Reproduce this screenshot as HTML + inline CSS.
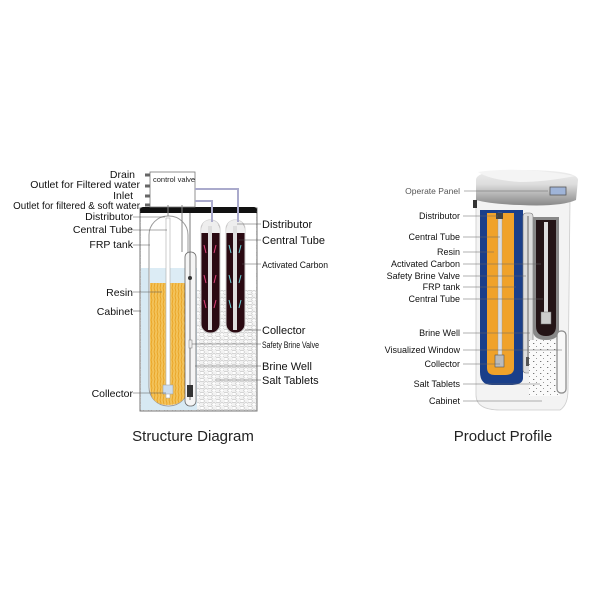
<!DOCTYPE html>
<html><head><meta charset="utf-8"><style>
html,body{margin:0;padding:0;background:#fff;}
svg{display:block;font-family:"Liberation Sans",sans-serif;}
</style></head><body>
<svg width="600" height="600" viewBox="0 0 600 600">
<defs>
<pattern id="peb" width="8" height="7" patternUnits="userSpaceOnUse">
<rect width="8" height="7" fill="#f2f2f2"/>
<ellipse cx="2" cy="2" rx="2.2" ry="1.7" fill="#fff" stroke="#aaa" stroke-width="0.5"/>
<ellipse cx="6" cy="5.5" rx="2.2" ry="1.7" fill="#fff" stroke="#aaa" stroke-width="0.5"/>
</pattern>
<pattern id="resin" width="6" height="8" patternUnits="userSpaceOnUse">
<rect width="6" height="8" fill="#f3c35a"/>
<path d="M1 0 L2 4 L1 8 M4 0 L5 3 L4 8" stroke="#e8a020" stroke-width="0.8" fill="none"/>
</pattern>
<pattern id="speck" width="7" height="6" patternUnits="userSpaceOnUse">
<rect width="7" height="6" fill="#fafafa"/>
<rect x="1" y="1" width="1.3" height="1" fill="#777"/><rect x="4" y="4" width="1" height="1" fill="#999"/>
</pattern>
<linearGradient id="lid" x1="0" y1="0" x2="0" y2="1"><stop offset="0" stop-color="#eee"/><stop offset="0.4" stop-color="#ddd"/><stop offset="1" stop-color="#888"/></linearGradient>
</defs>

<!-- LEFT STRUCTURE -->
<!-- cabinet -->
<rect x="140" y="208" width="117" height="203" fill="url(#peb)" stroke="#777" stroke-width="1"/>
<rect x="141" y="268" width="56" height="142" fill="#d7e9f3"/>
<rect x="141" y="213" width="56" height="55" fill="#fff"/>
<rect x="197" y="213" width="59" height="77" fill="#fff"/>
<path d="M140 214 Q140 207 147 207 L250 207 Q257 207 257 214 L257 213 L140 213Z" fill="#111"/>
<rect x="140" y="207" width="117" height="6" rx="3" fill="#111"/>
<!-- FRP tank -->
<rect x="149" y="216" width="39" height="190" rx="19" fill="#fff" stroke="#999" stroke-width="1"/>
<path d="M150 283 L187 283 L187 387 Q187 405 168 405 Q150 405 150 387Z" fill="url(#resin)"/>
<path d="M150 268 L187 268 L187 283 L150 283Z" fill="#dcecf5"/>
<rect x="166" y="218" width="4" height="180" fill="#fff" stroke="#aaa" stroke-width="0.6"/>
<rect x="163" y="385" width="10" height="9" fill="#cde" stroke="#999" stroke-width="0.5"/>
<!-- brine well -->
<rect x="185" y="252" width="11" height="154" rx="5" fill="#f5f5f5" stroke="#666" stroke-width="0.8"/>
<line x1="190" y1="213" x2="190" y2="400" stroke="#555" stroke-width="0.8"/>
<rect x="187" y="385" width="6" height="12" fill="#333"/>
<circle cx="190" cy="278" r="2" fill="#333"/>
<rect x="189" y="340" width="3" height="8" fill="#eee" stroke="#777" stroke-width="0.5"/>
<!-- carbon tanks -->
<rect x="201" y="220" width="19" height="113" rx="9" fill="#2a0a12" stroke="#ccc" stroke-width="1"/>
<rect x="226" y="220" width="19" height="113" rx="9" fill="#2a0a12" stroke="#ccc" stroke-width="1"/>
<path d="M201 233 Q201 220 210 220 Q220 220 220 233Z" fill="#eee"/>
<path d="M226 233 Q226 220 235 220 Q245 220 245 233Z" fill="#eee"/>
<rect x="208" y="226" width="4" height="104" fill="#ddd"/>
<rect x="233" y="226" width="4" height="104" fill="#ddd"/>
<path d="M204 245 l2 8 M216 245 l-2 8 M204 275 l2 8 M216 275 l-2 8 M204 300 l2 8 M216 300 l-2 8" stroke="#e0407a" stroke-width="1"/>
<path d="M229 245 l2 8 M241 245 l-2 8 M229 275 l2 8 M241 275 l-2 8 M229 300 l2 8 M241 300 l-2 8" stroke="#6ad0d8" stroke-width="1"/>
<!-- control valve -->
<rect x="150" y="172" width="45" height="35" fill="#fff" stroke="#777" stroke-width="0.8"/>
<text x="153" y="182" font-size="7.5" fill="#222">control valve</text>
<path d="M195 189 L238 189 L238 222 M195 201 L212 201 L212 222" stroke="#aac" stroke-width="2" fill="none"/>
<path d="M145 175 h5 M145 186 h5 M145 196 h5 M145 205 h5" stroke="#666" stroke-width="3"/>
<path d="M168 205 L168 216 M182 205 L182 252" stroke="#888" stroke-width="1"/>
<!-- left labels -->
<g font-size="10.5" fill="#111" text-anchor="end">
<text x="135" y="178">Drain</text>
<text x="140" y="188">Outlet for Filtered water</text>
<text x="133" y="199">Inlet</text>
<text x="140" y="209" font-size="9.8">Outlet for filtered &amp; soft water</text>
<text x="133" y="220">Distributor</text>
<text x="133" y="233">Central Tube</text>
<text x="133" y="248">FRP tank</text>
<text x="133" y="296">Resin</text>
<text x="133" y="315">Cabinet</text>
<text x="133" y="397">Collector</text>
</g>
<g stroke="#555" stroke-width="0.6">
<line x1="133" y1="217" x2="165" y2="217"/><line x1="133" y1="230" x2="167" y2="230"/>
<line x1="133" y1="245" x2="150" y2="245"/><line x1="133" y1="292" x2="162" y2="292"/>
<line x1="133" y1="311" x2="141" y2="311"/><line x1="133" y1="393" x2="166" y2="393"/>
<line x1="237" y1="224" x2="261" y2="224"/><line x1="239" y1="240" x2="261" y2="240"/>
<line x1="242" y1="264" x2="261" y2="264"/><line x1="245" y1="330" x2="261" y2="330"/>
<line x1="192" y1="344" x2="261" y2="344"/><line x1="195" y1="366" x2="261" y2="366"/>
<line x1="215" y1="380" x2="261" y2="380"/>
</g>
<g font-size="11" fill="#111">
<text x="262" y="228">Distributor</text>
<text x="262" y="244">Central Tube</text>
<text x="262" y="268" font-size="9.5" textLength="66" lengthAdjust="spacingAndGlyphs">Activated Carbon</text>
<text x="262" y="334">Collector</text>
<text x="262" y="348" font-size="9" textLength="57" lengthAdjust="spacingAndGlyphs">Safety Brine Valve</text>
<text x="262" y="370">Brine Well</text>
<text x="262" y="384">Salt Tablets</text>
</g>
<text x="193" y="441" font-size="15" text-anchor="middle" fill="#222">Structure Diagram</text>

<!-- RIGHT PRODUCT -->
<path d="M476 200 L476 395 Q476 410 500 410 L560 410 Q568 405 568 390 L570 200Z" fill="#f3f3f3" stroke="#ccc" stroke-width="0.8"/>
<path d="M476 180 Q476 170 520 170 Q578 170 578 180 L576 200 Q560 207 520 205 Q490 204 476 200Z" fill="url(#lid)"/>
<path d="M478 172 Q520 166 575 176 Q545 182 520 182 Q490 180 478 172Z" fill="#f4f4f4"/>
<rect x="550" y="187" width="16" height="8" fill="#9fb4d8" stroke="#555" stroke-width="0.8"/>
<rect x="473" y="200" width="4" height="8" fill="#333"/>
<path d="M480 210 L523 210 L523 378 Q523 385 510 385 L492 385 Q480 385 480 372Z" fill="#1a3f8a"/>
<path d="M487 213 L514 213 L514 368 Q514 375 505 375 L495 375 Q487 375 487 368Z" fill="#f0a22a"/>
<rect x="498" y="213" width="4" height="150" fill="#ddd" stroke="#999" stroke-width="0.4"/>
<rect x="495" y="355" width="9" height="12" fill="#bbb" stroke="#555" stroke-width="0.6"/>
<rect x="496" y="213" width="7" height="6" fill="#444"/>
<rect x="523" y="213" width="10" height="160" rx="3" fill="#ddd" stroke="#777" stroke-width="0.6"/>
<line x1="528" y1="216" x2="528" y2="365" stroke="#666" stroke-width="1"/>
<rect x="526" y="357" width="5" height="9" fill="#555"/>
<path d="M533 217 L559 217 L559 330 Q559 340 546 340 Q533 340 533 330Z" fill="#888"/>
<path d="M536 220 L556 220 L556 326 Q556 336 546 336 Q536 336 536 326Z" fill="#241416"/>
<rect x="544" y="222" width="4" height="95" fill="#ddd"/>
<rect x="541" y="312" width="10" height="12" fill="#ccc" stroke="#777" stroke-width="0.5"/>
<rect x="529" y="340" width="31" height="56" fill="url(#speck)"/>
<rect x="557" y="331" width="9" height="62" rx="4" fill="#f8f8f8" stroke="#888" stroke-width="1.2"/>
<g stroke="#666" stroke-width="0.6">
<line x1="464" y1="191" x2="548" y2="191"/><line x1="463" y1="216" x2="498" y2="216"/>
<line x1="463" y1="237" x2="500" y2="237"/><line x1="463" y1="252" x2="494" y2="252"/>
<line x1="463" y1="264" x2="541" y2="264"/><line x1="463" y1="276" x2="526" y2="276"/>
<line x1="463" y1="287" x2="516" y2="287"/><line x1="463" y1="299" x2="543" y2="299"/>
<line x1="463" y1="333" x2="530" y2="333"/><line x1="463" y1="350" x2="562" y2="350"/>
<line x1="463" y1="364" x2="500" y2="364"/><line x1="463" y1="384" x2="540" y2="384"/>
<line x1="463" y1="401" x2="542" y2="401"/>
</g>
<g font-size="9" fill="#111" text-anchor="end">
<text x="460" y="194" fill="#555" font-size="8.5">Operate Panel</text>
<text x="460" y="219">Distributor</text>
<text x="460" y="240">Central Tube</text>
<text x="460" y="255">Resin</text>
<text x="460" y="267">Activated Carbon</text>
<text x="460" y="279">Safety Brine Valve</text>
<text x="460" y="290">FRP tank</text>
<text x="460" y="302">Central Tube</text>
<text x="460" y="336">Brine Well</text>
<text x="460" y="353">Visualized Window</text>
<text x="460" y="367">Collector</text>
<text x="460" y="387">Salt Tablets</text>
<text x="460" y="404">Cabinet</text>
</g>
<text x="503" y="441" font-size="15" text-anchor="middle" fill="#222">Product Profile</text>
</svg>
</body></html>
